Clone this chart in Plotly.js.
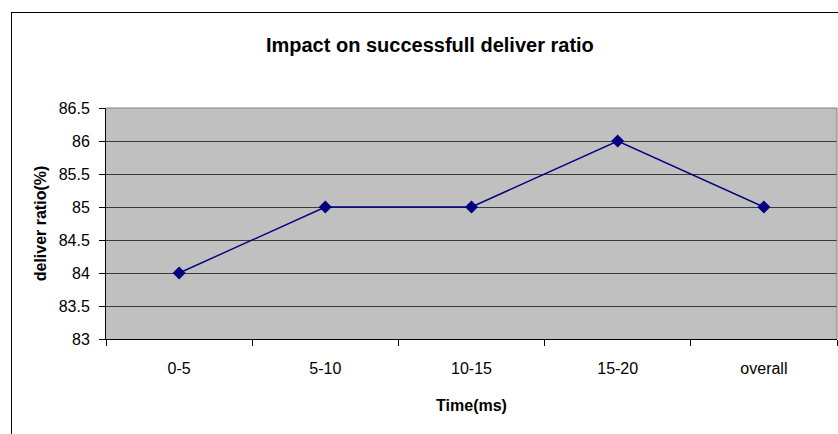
<!DOCTYPE html>
<html>
<head>
<meta charset="utf-8">
<script src="https://cdn.plot.ly/plotly-3.0.1.min.js"></script>
<style>
  html, body { margin: 0; padding: 0; background: #fff; }
  #wrap { position: relative; width: 838px; height: 434px; overflow: hidden; }
  #chart { width: 838px; height: 434px; }
  #frame { position: absolute; left: 11px; top: 12px; width: 900px; height: 500px;
           border: 1px solid #000; pointer-events: none; box-sizing: border-box; }
</style>
</head>
<body>
<div id="wrap">
  <div id="chart"></div>
  <div id="frame"></div>
</div>
<script>
const categories = ["0-5", "5-10", "10-15", "15-20", "overall"];
const deliverRatio = [84, 85, 85, 86, 85];
const yTicks = [83, 83.5, 84, 84.5, 85, 85.5, 86, 86.5];
const yTickLabels = ["83", "83.5", "84", "84.5", "85", "85.5", "86", "86.5"];

const FONT = "Liberation Sans, Arial, sans-serif";

const trace = {
  type: "scatter",
  mode: "lines+markers",
  x: categories,
  y: deliverRatio,
  line: { color: "#000080", width: 1.4 },
  marker: { symbol: "diamond", size: 10, color: "#000080" },
  hoverinfo: "x+y"
};

const layout = {
  width: 838,
  height: 434,
  margin: { l: 106, r: 1, t: 108, b: 95 },
  paper_bgcolor: "#ffffff",
  plot_bgcolor: "#c0c0c0",
  showlegend: false,
  font: { family: FONT, color: "#000", size: 16 },
  title: {
    text: "<b>Impact on successfull deliver ratio</b>",
    font: { family: FONT, size: 20, color: "#000" },
    xref: "container", yref: "container",
    x: 0.513, xanchor: "center",
    y: 1 - 45 / 434, yanchor: "middle"
  },
  xaxis: {
    type: "category",
    range: [-0.5, 4.5],
    tickson: "boundaries",
    ticks: "outside",
    ticklen: 6,
    tickcolor: "#000",
    tickwidth: 1,
    ticklabelstandoff: 15,
    showgrid: false,
    showline: true,
    linecolor: "#000",
    linewidth: 1,
    zeroline: false,
    tickfont: { family: FONT, size: 16, color: "#000" },
    title: { text: "<b>Time(ms)</b>", font: { family: FONT, size: 16, color: "#000" }, standoff: 23 },
    fixedrange: true
  },
  yaxis: {
    range: [83, 86.5],
    tickmode: "array",
    tickvals: yTicks,
    ticktext: yTickLabels,
    ticks: "outside",
    ticklen: 6,
    tickcolor: "#000",
    tickwidth: 1,
    ticklabelstandoff: 6,
    showgrid: true,
    gridcolor: "#3a3a3a",
    gridwidth: 1,
    showline: true,
    linecolor: "#000",
    linewidth: 1,
    zeroline: false,
    tickfont: { family: FONT, size: 16, color: "#000" },
    title: { text: "<b>deliver ratio(%)</b>", font: { family: FONT, size: 16, color: "#000" }, standoff: 8 },
    fixedrange: true
  },
  shapes: [
    { type: "line", xref: "paper", yref: "paper", x0: 0, x1: 1, y0: 1, y1: 1,
      line: { color: "#808080", width: 1 } },
    { type: "line", xref: "paper", yref: "paper", x0: 1, x1: 1, y0: 0, y1: 1,
      line: { color: "#808080", width: 1 } }
  ]
};

Plotly.newPlot("chart", [trace], layout, { displayModeBar: false, staticPlot: true });
</script>
</body>
</html>
